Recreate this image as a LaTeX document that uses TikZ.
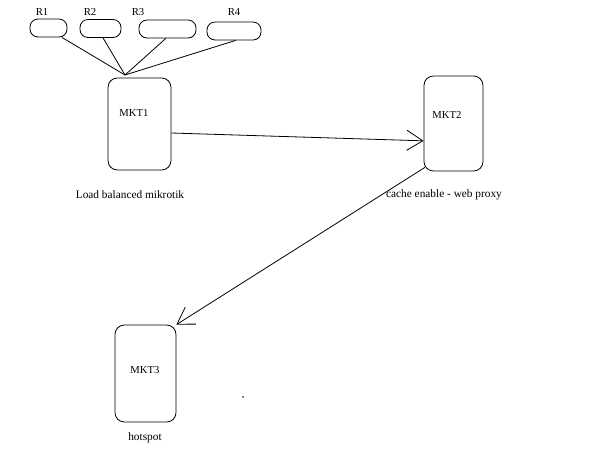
\documentclass[tikz,border=0pt]{standalone}
\usepackage{fontspec}
\setmainfont{Liberation Serif}
\usetikzlibrary{arrows.meta, positioning}
\tikzset{
    rbox/.style={draw, line width=0.6pt, rounded corners=6pt, minimum height=13.5pt, inner sep=0pt},
    mkbox/.style={draw, line width=0.6pt, rounded corners=7pt, inner sep=0pt},
    lbl/.style={font=\fontsize{8}{9}\selectfont, inner sep=0pt},
    caption/.style={font=\fontsize{8.5}{10}\selectfont, inner sep=0pt},
    link/.style={line width=0.6pt},
    flow/.style={line width=0.6pt, -{Straight Barb[length=12pt, width=15pt, line width=0.6pt]}},
}

\begin{document}
\begin{tikzpicture}[x=0.75pt, y=-0.75pt]
    \useasboundingbox (0,0) rectangle (594,455);

    % Upstream links
    \foreach \name/\cx/\cy/\w/\lx in {R1/48.5/28/27.75/42, R2/100.5/28.5/30.75/90, R3/167.5/29/42.75/138, R4/234/31/40.5/234} {
        \node[rbox, minimum width=\w pt] (\name) at (\cx,\cy) {};
        \node[lbl] (\name lbl) at (\lx,12) {\name};
    }
    \coordinate (hub) at (125,75);
    \foreach \name/\ang in {R1/-35, R2/-75, R3/-100, R4/-80} {
        \draw[link] (\name.\ang) -- (hub);
    }

    % Mikrotik boxes
    \node[mkbox, minimum width=47.25pt, minimum height=69pt] (mkt1) at (139.5,124) {};
    \node[mkbox, minimum width=44.25pt, minimum height=71.25pt] (mkt2) at (453.5,123.5) {};
    \node[mkbox, minimum width=45.75pt, minimum height=72.75pt] (mkt3) at (145.5,373.5) {};
    \node[lbl] (mkt1lbl) at (134,113) {MKT1};
    \node[lbl] (mkt2lbl) at (447,115) {MKT2};
    \node[lbl] (mkt3lbl) at (145,370) {MKT3};

    % Captions
    \node[caption] (cap1) at (130,195) {Load balanced mikrotik};
    \node[caption] (cap2) at (444,195) {cache enable - web proxy};
    \node[caption] (cap3) at (145,438) {hotspot};

    % Flow
    \draw[flow] ([yshift=-6.75pt]mkt1.east) -- ([yshift=-13pt]mkt2.west);
    \draw[flow] ([xshift=1pt, yshift=3pt]mkt2.south west) -- (mkt3.north east);

    \fill (243,397) circle (0.6pt);
\end{tikzpicture}
\end{document}
